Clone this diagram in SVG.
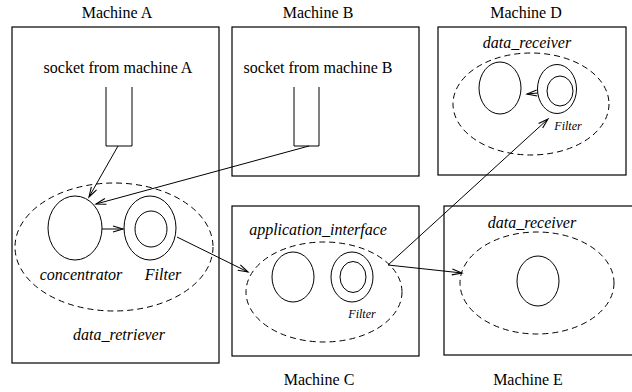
<svg xmlns="http://www.w3.org/2000/svg" width="632" height="392" viewBox="0 0 632 392">
  <style>
    .box { fill: none; stroke: #000; stroke-width: 1.2; }
    .shape { fill: none; stroke: #000; stroke-width: 1; }
    .dash { fill: none; stroke: #000; stroke-width: 1; stroke-dasharray: 6 4; }
    .lbl { font-family: "Liberation Serif", "Times New Roman", serif; font-size: 16px; fill: #000; text-anchor: middle; }
    .it { font-style: italic; }
    .small { font-size: 12px; }
    .conn { fill: none; stroke: #000; stroke-width: 1; marker-end: url(#arrow); }
  </style>
  <defs>
    <marker id="arrow" markerUnits="userSpaceOnUse" markerWidth="14" markerHeight="10" viewBox="-11 -5 14 10" refX="0" refY="0" orient="auto">
      <path d="M-10,-3 L0,0 L-10,3" fill="none" stroke="#000" stroke-width="1.1"/>
    </marker>
  </defs>
  <rect width="632" height="392" fill="#fff"/>

  <!-- Machine A: socket, concentrator and filter -->
  <g id="machine-a">
    <text class="lbl" x="117" y="18">Machine A</text>
    <rect class="box" x="12" y="27" width="207" height="336"/>
    <text class="lbl" x="118" y="73">socket from machine A</text>
    <path class="shape" d="M106,87 V146 H132 V87"/>
    <ellipse class="dash" cx="114" cy="247" rx="99" ry="64"/>
    <ellipse class="shape" cx="75" cy="228" rx="27" ry="32"/>
    <ellipse class="shape" cx="150" cy="228" rx="26" ry="32"/>
    <ellipse class="shape" cx="151" cy="229" rx="16" ry="18"/>
    <text class="lbl it" x="81" y="280">concentrator</text>
    <text class="lbl it" x="163" y="280">Filter</text>
    <text class="lbl it" x="119" y="340">data_retriever</text>
  </g>

  <!-- Machine B: socket -->
  <g id="machine-b">
    <text class="lbl" x="318" y="18">Machine B</text>
    <rect class="box" x="232" y="27" width="187" height="149"/>
    <text class="lbl" x="318" y="73">socket from machine B</text>
    <path class="shape" d="M294,87 V146 H319 V87"/>
  </g>

  <!-- Machine C: application interface -->
  <g id="machine-c">
    <rect class="box" x="232" y="206" width="187" height="150"/>
    <text class="lbl it" x="318" y="235">application_interface</text>
    <ellipse class="dash" cx="324" cy="292" rx="78" ry="50"/>
    <ellipse class="shape" cx="293" cy="277" rx="21" ry="25"/>
    <ellipse class="shape" cx="352" cy="277" rx="21" ry="25"/>
    <ellipse class="shape" cx="353" cy="277" rx="13" ry="15.5"/>
    <text class="lbl it small" x="362" y="318">Filter</text>
    <text class="lbl" x="319" y="385">Machine C</text>
  </g>

  <!-- Machine D: data receiver with filter -->
  <g id="machine-d">
    <text class="lbl" x="526" y="18">Machine D</text>
    <rect class="box" x="438" y="27" width="188" height="148"/>
    <text class="lbl it" x="527" y="48">data_receiver</text>
    <ellipse class="dash" cx="531" cy="104" rx="78" ry="51"/>
    <ellipse class="shape" cx="500" cy="88" rx="21" ry="26"/>
    <ellipse class="shape" cx="557" cy="89" rx="19.5" ry="24.5"/>
    <ellipse class="shape" cx="560" cy="91" rx="13" ry="15"/>
    <text class="lbl it small" x="568" y="130">Filter</text>
  </g>

  <!-- Machine E: data receiver -->
  <g id="machine-e">
    <rect class="box" x="444" y="206" width="200" height="149"/>
    <text class="lbl it" x="532" y="228">data_receiver</text>
    <ellipse class="dash" cx="537" cy="283" rx="77" ry="51"/>
    <ellipse class="shape" cx="538" cy="281" rx="21" ry="25"/>
    <text class="lbl" x="528" y="385">Machine E</text>
  </g>

  <!-- data flow connectors -->
  <g id="connectors">
    <line class="conn" x1="118" y1="146" x2="89" y2="197"/>
    <line class="conn" x1="309" y1="146" x2="96" y2="204"/>
    <line class="conn" x1="102" y1="229" x2="123" y2="229"/>
    <line class="conn" x1="177" y1="237" x2="248" y2="272"/>
    <line class="conn" x1="388" y1="265" x2="548" y2="119"/>
    <line class="conn" x1="388" y1="265" x2="462" y2="273"/>
    <line class="conn" x1="538" y1="93" x2="527" y2="94"/>
  </g>
</svg>
